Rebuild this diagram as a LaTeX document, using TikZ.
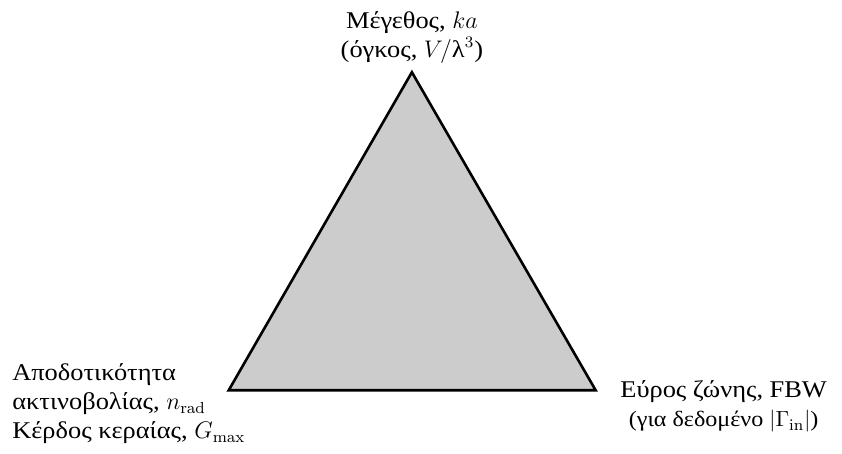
\documentclass[12pt,tikz,border=0pt]{standalone}
\usepackage[no-math]{fontspec}
\setmainfont[FakeStretch=1.1]{Liberation Serif}
\usepackage{tikz}
\usetikzlibrary{positioning}
\definecolor{trifill}{RGB}{204,204,204}

\begin{document}
\begin{tikzpicture}[
  every node/.style={inner sep=0pt},
  corner/.style={font=\fontsize{12}{14.5}\selectfont},
  tradeoff/.style={draw=black, line width=1.3pt, fill=trifill}
]
  \useasboundingbox (0,0) rectangle (14.80,7.98);

  \coordinate (size) at (7.24,6.71);
  \coordinate (eff) at (4.02,1.12);
  \coordinate (band) at (10.47,1.12);

  \draw[tradeoff] (size) -- (eff) -- (band) -- cycle;

  \node[corner, align=center, above=4pt of size] (sizelbl) {Μέγεθος, $ka$\\(όγκος, $V/\mbox{λ}^3$)};
  \node[corner, align=left, anchor=west] (efflbl) at (0.21,0.88) {Αποδοτικότητα\\ακτινοβολίας, $n_{\mathrm{rad}}$\\Κέρδος κεραίας, $G_{\max}$};
  \node[corner, align=center] (bandlbl) at (12.72,0.83) {Εύρος ζώνης, FBW\\{\small (για δεδομένο $|\Gamma_{\mathrm{in}}|$)}};
\end{tikzpicture}
\end{document}
